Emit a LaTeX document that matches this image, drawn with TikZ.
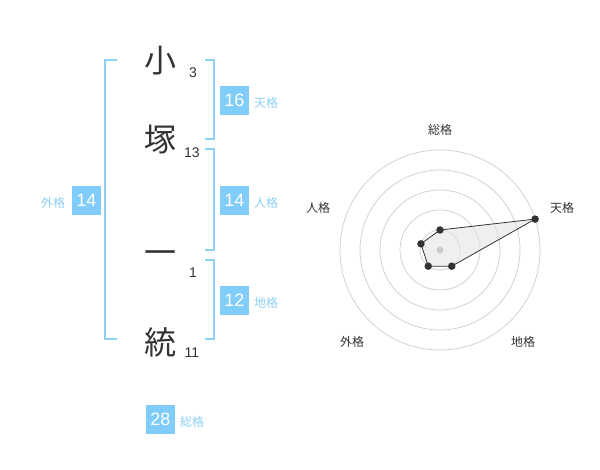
\documentclass[tikz,border=0pt]{standalone}
\usepackage{fontspec}
\setmainfont{Liberation Sans}
\newfontfamily\jp{Noto Sans CJK JP}
\definecolor{skyb}{HTML}{80CCFA}
\definecolor{skyt}{HTML}{8DD0F5}
\definecolor{ink}{HTML}{333333}
\definecolor{ringc}{HTML}{CCCCCC}
\begin{document}
\begin{tikzpicture}[x=1pt,y=-1pt,
  bigchar/.style={font=\jp\fontsize{32}{32}\selectfont, text=ink, inner sep=0pt},
  strokenum/.style={font=\fontsize{14}{14}\selectfont, text=ink, inner sep=0pt},
  numbox/.style={fill=skyb, text=white, minimum width=29pt, minimum height=29pt, inner sep=0pt, font=\fontsize{18}{18}\selectfont},
  kaku/.style={font=\jp\fontsize{12}{12}\selectfont, text=skyt, inner sep=0pt},
  bracket/.style={draw=skyt, line width=2pt},
  ring/.style={draw=ringc, line width=0.7pt},
  rlabel/.style={font=\jp\fontsize{12}{12}\selectfont, text=ink, inner sep=0pt},
  dot/.style={circle, fill=ink, inner sep=0pt, minimum size=7.5pt}]
\useasboundingbox (0,0) rectangle (600,470);
% characters
\node[bigchar] (c1) at (160,61) {小};
\node[bigchar] (c2) at (160,140) {塚};
\node[bigchar] (c3) at (160,258) {一};
\node[bigchar] (c4) at (160,342) {統};
\node[strokenum] (s1) at (193,73) {3};
\node[strokenum] (s2) at (192,153) {13};
\node[strokenum] (s3) at (193,273) {1};
\node[strokenum] (s4) at (192,353) {11};
% brackets
\draw[bracket] (117,60) -- (105,60) -- (105,339) -- (117,339);
\draw[bracket] (205,60) -- (214,60) -- (214,139) -- (205,139);
\draw[bracket] (205,149) -- (214,149) -- (214,250) -- (205,250);
\draw[bracket] (205,260) -- (214,260) -- (214,339) -- (205,339);
% boxes
\node[numbox] (b1) at (234.5,100.5) {16};
\node[kaku] (k1) at (266,103) {天格};
\node[numbox] (b2) at (234.5,200.5) {14};
\node[kaku] (k2) at (266,203) {人格};
\node[numbox] (b3) at (234.5,300.5) {12};
\node[kaku] (k3) at (266,303) {地格};
\node[numbox] (b4) at (86.5,200.5) {14};
\node[kaku] (k4) at (53,203) {外格};
\node[numbox] (b5) at (160.5,419) {28};
\node[kaku] (k5) at (192,422) {総格};
% radar
\coordinate (ctr) at (440,250);
\foreach \r in {20,40,60,80,100} \draw[ring] (ctr) circle[radius=\r];
\path (ctr) ++(-90:20) coordinate (q1);
\path (ctr) ++(-18:100) coordinate (q2);
\path (ctr) ++(54:20) coordinate (p3);
\path (ctr) ++(126:20) coordinate (p4);
\path (ctr) ++(198:20) coordinate (p5);
\draw[draw=ink, line width=0.8pt, fill=black!10, fill opacity=0.6] (q1) -- (q2) -- (p3) -- (p4) -- (p5) -- cycle;
\fill[ringc] (ctr) circle[radius=3.5];
\foreach \p in {q1,q2,p3,p4,p5} \node[dot] at (\p) {};
\node[rlabel] (r1) at (440,130) {総格};
\node[rlabel] (r2) at (562,208) {天格};
\node[rlabel] (r3) at (318,208) {人格};
\node[rlabel] (r4) at (352,342) {外格};
\node[rlabel] (r5) at (523,342) {地格};
\end{tikzpicture}
\end{document}
